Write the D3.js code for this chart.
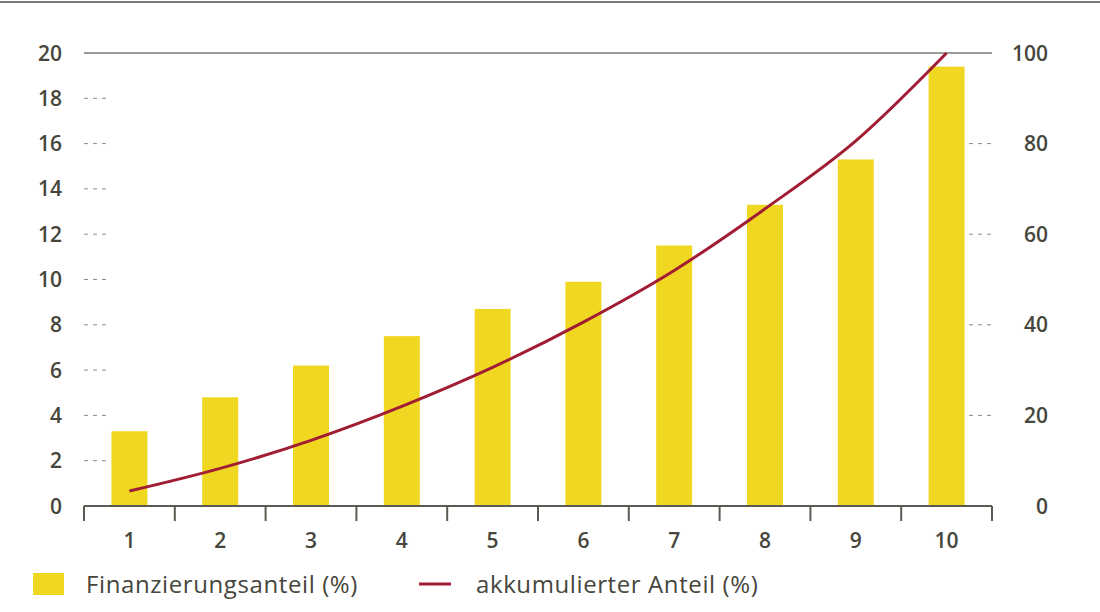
<!DOCTYPE html>
<html>
<head>
    <script src="https://d3js.org/d3.v7.min.js"></script>
    <style>
        body { margin: 0; background: #fff; }
        text { font-family: "Open Sans", sans-serif; fill: #46463c; }
        .tick-label { font-size: 21px; font-weight: 600; }
        .legend text { font-size: 24px; letter-spacing: 0.6px; }
    </style>
</head>
<body>
    <svg width="1100" height="612"></svg>
    <script>
        var deciles = [1, 2, 3, 4, 5, 6, 7, 8, 9, 10];
        var share = [3.3, 4.8, 6.2, 7.5, 8.7, 9.9, 11.5, 13.3, 15.3, 19.4];
        var cumulative = [3.3, 8.3, 14.5, 22.0, 30.6, 40.6, 52.0, 65.6, 80.6, 100];
        var leftTicks = [0, 2, 4, 6, 8, 10, 12, 14, 16, 18, 20];
        var rightTicks = [0, 20, 40, 60, 80, 100];

        var svg = d3.select("svg"),
            margin = {top: 53, right: 108, bottom: 106, left: 84},
            width = +svg.attr("width") - margin.left - margin.right,
            height = +svg.attr("height") - margin.top - margin.bottom;

        var xb = d3.scaleBand().domain(deciles).range([0, width]);
        var yL = d3.scaleLinear().domain([0, 20]).range([height, 0]);
        var yR = d3.scaleLinear().domain([0, 100]).range([height, 0]);

        // top rule
        svg.append("line")
            .attr("x1", 0).attr("x2", 1100).attr("y1", 2).attr("y2", 2)
            .attr("stroke", "#7a7a72").attr("stroke-width", 2);

        var g = svg.append("g").attr("transform", "translate(" + margin.left + "," + margin.top + ")");

        // grid at the top value
        g.append("line")
            .attr("x1", 0).attr("x2", width)
            .attr("y1", yL(20)).attr("y2", yL(20))
            .attr("stroke", "#7a7a72").attr("stroke-width", 1.5);

        // dashed tick stubs
        leftTicks.filter(d => d > 0 && d < 20).forEach(function(d) {
            g.append("line")
                .attr("x1", 0).attr("x2", 23)
                .attr("y1", yL(d)).attr("y2", yL(d))
                .attr("stroke", "#8a8a82").attr("stroke-width", 1)
                .attr("stroke-dasharray", "4,5");
        });
        rightTicks.filter(d => d > 0 && d < 100).forEach(function(d) {
            g.append("line")
                .attr("x1", width - 23).attr("x2", width)
                .attr("y1", yR(d)).attr("y2", yR(d))
                .attr("stroke", "#8a8a82").attr("stroke-width", 1)
                .attr("stroke-dasharray", "4,5");
        });

        // bars
        g.selectAll(".bar")
            .data(deciles)
            .enter().append("rect")
            .attr("class", "bar")
            .attr("x", d => xb(d) + (xb.bandwidth() - 36) / 2)
            .attr("width", 36)
            .attr("y", (d, i) => yL(share[i]))
            .attr("height", (d, i) => height - yL(share[i]))
            .attr("fill", "#f0d822");

        // cumulative line
        var line = d3.line()
            .x((d, i) => xb(deciles[i]) + xb.bandwidth() / 2)
            .y(d => yR(d))
            .curve(d3.curveMonotoneX);
        g.append("path")
            .datum(cumulative)
            .attr("d", line)
            .attr("fill", "none")
            .attr("stroke", "#a11d33")
            .attr("stroke-width", 3);

        // x axis
        var xAxis = g.append("g")
            .attr("transform", "translate(0," + height + ")");
        xAxis.append("line")
            .attr("x1", 0).attr("x2", width)
            .attr("stroke", "#5a5a52").attr("stroke-width", 2);
        var bounds = deciles.map(d => xb(d)).concat([width]);
        xAxis.selectAll(".xtick")
            .data(bounds)
            .enter().append("line")
            .attr("x1", d => d).attr("x2", d => d)
            .attr("y1", 0).attr("y2", 15)
            .attr("stroke", "#5a5a52").attr("stroke-width", 2);
        xAxis.selectAll(".xlabel")
            .data(deciles)
            .enter().append("text")
            .attr("class", "tick-label")
            .attr("x", d => xb(d) + xb.bandwidth() / 2)
            .attr("y", 42)
            .attr("text-anchor", "middle")
            .text(d => d);

        // left labels
        g.selectAll(".ylabel")
            .data(leftTicks)
            .enter().append("text")
            .attr("class", "tick-label")
            .attr("x", -22)
            .attr("y", d => yL(d))
            .attr("dy", "0.36em")
            .attr("text-anchor", "end")
            .text(d => d);

        // right labels
        g.selectAll(".rlabel")
            .data(rightTicks)
            .enter().append("text")
            .attr("class", "tick-label")
            .attr("x", width + 56)
            .attr("y", d => yR(d))
            .attr("dy", "0.36em")
            .attr("text-anchor", "end")
            .text(d => d);

        // legend
        var legend = svg.append("g").attr("class", "legend");
        legend.append("rect")
            .attr("x", 33).attr("y", 573).attr("width", 31).attr("height", 22)
            .attr("fill", "#f0d822");
        legend.append("text")
            .attr("x", 86).attr("y", 593)
            .text("Finanzierungsanteil (%)");
        legend.append("line")
            .attr("x1", 419).attr("x2", 451).attr("y1", 584).attr("y2", 584)
            .attr("stroke", "#a11d33").attr("stroke-width", 3);
        legend.append("text")
            .attr("x", 476).attr("y", 593)
            .text("akkumulierter Anteil (%)");
    </script>
</body>
</html>
